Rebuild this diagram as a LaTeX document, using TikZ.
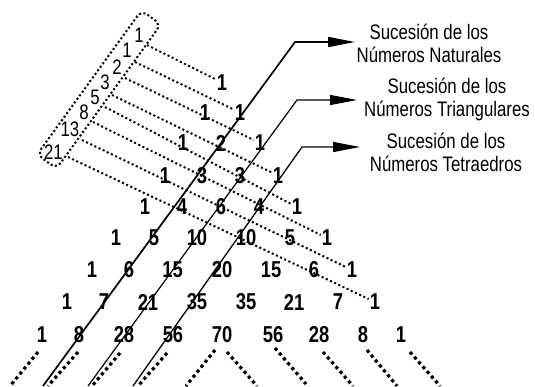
\documentclass[tikz,border=0pt]{standalone}
\usepackage{fontspec}
\setmainfont{Liberation Sans}
\newfontfamily\narrowfont{Liberation Sans}[FakeStretch=0.8]
\usetikzlibrary{arrows.meta}
\begin{document}
\begin{tikzpicture}[x=1pt,y=-1pt,
  pnum/.style={font=\narrowfont\bfseries\fontsize{23}{26}\selectfont, inner sep=0pt},
  fnum/.style={font=\narrowfont\fontsize{21}{24}\selectfont, inner sep=0pt},
  lab/.style={font=\narrowfont\fontsize{21}{23.5}\selectfont, align=center, inner sep=0pt},
  fibline/.style={line width=2pt, dash pattern=on 2pt off 2.6pt, shorten >=7pt},
  fibbox/.style={draw, line width=2pt, dash pattern=on 2pt off 2.4pt, rounded corners=7pt,
    minimum width=178pt, minimum height=24pt, rotate=54.1, inner sep=0pt},
  seqline/.style={line width=1.2pt, -{Triangle[length=27pt,width=10pt]}},
  cont/.style={line width=3.2pt, dash pattern=on 3.2pt off 3.2pt},
]
\useasboundingbox (0,0) rectangle (535,386);

% Fibonacci box and numbers
\node[fibbox] (fbox) at (99,89.5) {};
\node[fnum] (f1) at (139,35.5) {1};
\node[fnum] (f2) at (127,50.5) {1};
\node[fnum] (f3) at (117,67.5) {2};
\node[fnum] (f4) at (105,82.5) {3};
\node[fnum] (f5) at (95,97.5) {5};
\node[fnum] (f6) at (84,112.5) {8};
\node[fnum] (f7) at (70,129.5) {13};
\node[fnum] (f8) at (53.5,152) {21};

% Pascal triangle
\node[pnum] (p0-0) at (222,82.5) {1};
\node[pnum] (p1-0) at (205,112.5) {1};
\node[pnum] (p1-1) at (240,112.5) {1};
\node[pnum] (p2-0) at (183,143) {1};
\node[pnum] (p2-1) at (221,143) {2};
\node[pnum] (p2-2) at (260,143) {1};
\node[pnum] (p3-0) at (165,175.5) {1};
\node[pnum] (p3-1) at (202,175.5) {3};
\node[pnum] (p3-2) at (240,175.5) {3};
\node[pnum] (p3-3) at (278,175.5) {1};
\node[pnum] (p4-0) at (145,207) {1};
\node[pnum] (p4-1) at (182,207) {4};
\node[pnum] (p4-2) at (221,207) {6};
\node[pnum] (p4-3) at (259,207) {4};
\node[pnum] (p4-4) at (297,207) {1};
\node[pnum] (p5-0) at (116,238) {1};
\node[pnum] (p5-1) at (154,238) {5};
\node[pnum] (p5-2) at (197,238) {10};
\node[pnum] (p5-3) at (246,238) {10};
\node[pnum] (p5-4) at (290,238) {5};
\node[pnum] (p5-5) at (327,238) {1};
\node[pnum] (p6-0) at (92,270) {1};
\node[pnum] (p6-1) at (129,270) {6};
\node[pnum] (p6-2) at (172.5,270) {15};
\node[pnum] (p6-3) at (222,270) {20};
\node[pnum] (p6-4) at (271,270) {15};
\node[pnum] (p6-5) at (314,270) {6};
\node[pnum] (p6-6) at (352,270) {1};
\node[pnum] (p7-0) at (67,302) {1};
\node[pnum] (p7-1) at (104,302) {7};
\node[pnum] (p7-2) at (148,302) {21};
\node[pnum] (p7-3) at (197,302) {35};
\node[pnum] (p7-4) at (246,302) {35};
\node[pnum] (p7-5) at (294,302) {21};
\node[pnum] (p7-6) at (338,302) {7};
\node[pnum] (p7-7) at (375,302) {1};
\node[pnum] (p8-0) at (42,335) {1};
\node[pnum] (p8-1) at (79,335) {8};
\node[pnum] (p8-2) at (124,335) {28};
\node[pnum] (p8-3) at (173,335) {56};
\node[pnum] (p8-4) at (222,335) {70};
\node[pnum] (p8-5) at (273,335) {56};
\node[pnum] (p8-6) at (319,335) {28};
\node[pnum] (p8-7) at (363,335) {8};
\node[pnum] (p8-8) at (401,335) {1};

% Fibonacci diagonals
\coordinate (s1) at (147,45);
\coordinate (s2) at (135,62);
\coordinate (s3) at (125,78);
\coordinate (s4) at (112,95);
\coordinate (s5) at (105,107);
\coordinate (s6) at (93,122);
\coordinate (s7) at (82,140);
\coordinate (s8) at (68,157);
\draw[fibline] (s1) -- (p0-0.center);
\draw[fibline] (s2) -- (p1-1.center);
\draw[fibline] (s3) -- (p2-2.center);
\draw[fibline] (s4) -- (p3-3.center);
\draw[fibline] (s5) -- (p4-4.center);
\draw[fibline] (s6) -- (p5-5.center);
\draw[fibline] (s7) -- (p6-6.center);
\draw[fibline] (s8) -- (p7-7.center);

% Labels
\node[lab] (lab1) at (429,43.3) {Sucesión de los\\Números Naturales};
\node[lab] (lab2) at (447,99.5) {Sucesión de los\\Números Triangulares};
\node[lab] (lab3) at (446,152.5) {Sucesión de los\\Números Tetraedros};

% Sequence lines
\coordinate (b1) at (43,386);  \coordinate (k1) at (295,42);  \coordinate (t1) at (355,42);
\coordinate (b2) at (88,386);  \coordinate (k2) at (297,100); \coordinate (t2) at (357,100);
\coordinate (b3) at (133,386); \coordinate (k3) at (302,147); \coordinate (t3) at (360,147);
\draw[seqline, line width=1.7pt] (b1) -- (k1) -- (t1);
\draw[seqline, line width=1.2pt] (b2) -- (k2) -- (t2);
\draw[seqline, line width=1.3pt] (b3) -- (k3) -- (t3);

% Continuation marks
\draw[cont] (38,352) -- (10,386);
\draw[cont] (78,352) -- (48,386);
\draw[cont] (120,353) -- (92,386);
\draw[cont] (167,353) -- (138,386);
\draw[cont] (215,350) -- (186,386);
\draw[cont] (227,352) -- (257,386);
\draw[cont] (275,348) -- (306,384);
\draw[cont] (323,352) -- (353,386);
\draw[cont] (367,350) -- (397,386);
\draw[cont] (410,352) -- (440,386);
\end{tikzpicture}
\end{document}
